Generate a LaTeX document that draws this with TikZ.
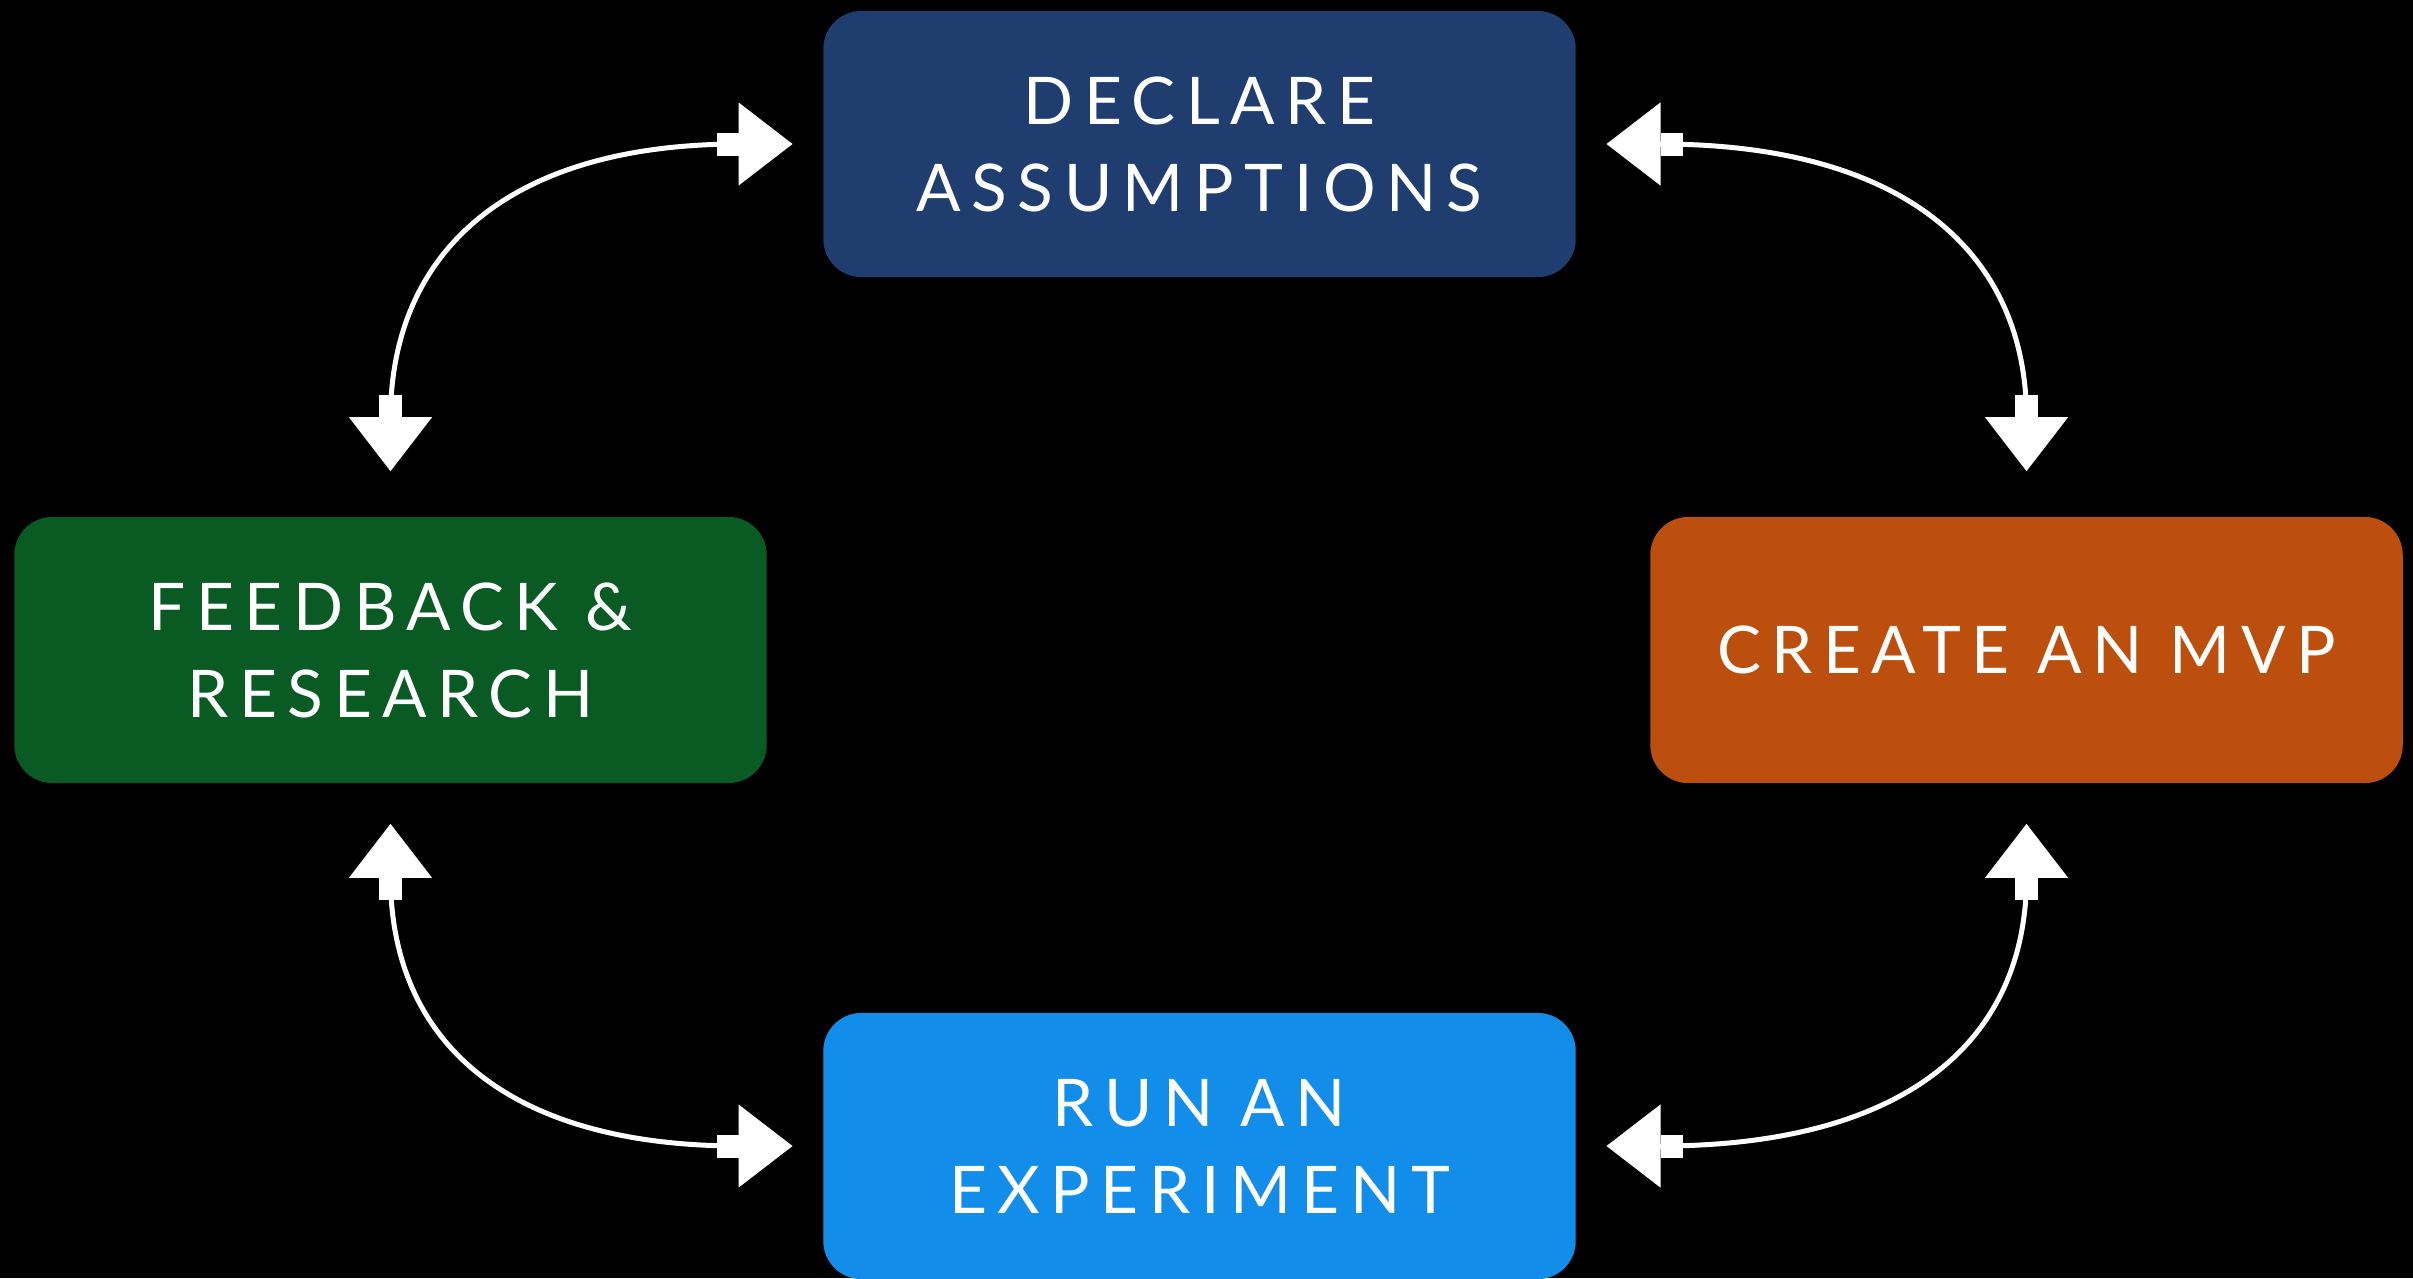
\documentclass[tikz,border=0pt]{standalone}
\usepackage{fontspec}
\setmainfont{Lato}[LetterSpace=16]
\usetikzlibrary{arrows.meta,positioning}

\definecolor{declblue}{HTML}{1F3D6E}
\definecolor{fbgreen}{HTML}{0A5A24}
\definecolor{mvporange}{HTML}{BC4F0E}
\definecolor{runblue}{HTML}{128EEA}

\begin{document}
\begin{tikzpicture}[x=0.01cm,y=-0.01cm,
  stage/.style={rounded corners=0.38cm,minimum width=7.52cm,minimum height=2.66cm,
    inner sep=0pt,align=center,text=white,font=\fontsize{18.7}{24.75}\selectfont},
  link/.style={draw=white,line width=0.05cm,out looseness=1.45,in looseness=1.15,
    {Triangle[length=0.54cm,width=0.82cm,sep=0pt]Rectangle[length=0.22cm,width=0.23cm,sep=0pt]}-{Rectangle[length=0.22cm,width=0.23cm,sep=0pt]Triangle[length=0.54cm,width=0.82cm,sep=0pt]}}]
\fill[black] (0,0) rectangle (2413,1278);
\useasboundingbox (0,0) rectangle (2413,1278);

% the four stages
\node[stage,fill=declblue] (decl) at (1199.5,144) {DECLARE\\ASSUMPTIONS};
\node[stage,fill=fbgreen] (fb) at (390.5,650) {FEEDBACK \&\\RESEARCH};
\node[stage,fill=mvporange] (mvp) at (2026.5,650) {CREATE AN MVP};
\node[stage,fill=runblue] (run) at (1199.5,1146) {RUN AN\\EXPERIMENT};

% cycle links
\draw[link,shorten <=0.3cm,shorten >=0.45cm] (decl.west) to[out=180,in=90] (fb.north);
\draw[link,shorten <=0.3cm,shorten >=0.45cm] (decl.east) to[out=0,in=90] (mvp.north);
\draw[link,shorten <=0.3cm,shorten >=0.4cm] (run.west) to[out=180,in=-90] (fb.south);
\draw[link,shorten <=0.3cm,shorten >=0.4cm] (run.east) to[out=0,in=-90] (mvp.south);
\end{tikzpicture}
\end{document}
